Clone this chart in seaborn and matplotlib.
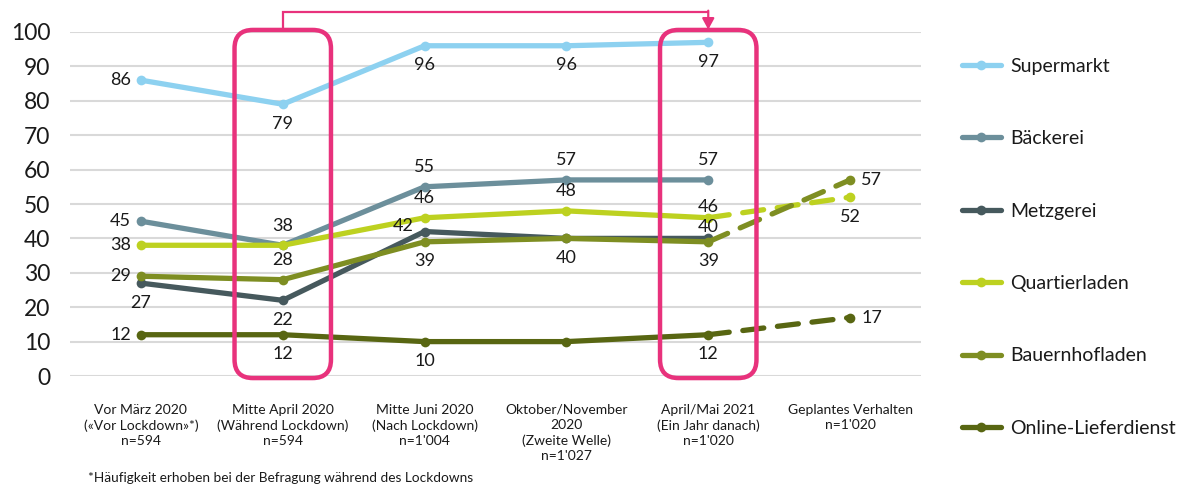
import numpy as np
import pandas as pd
import matplotlib
matplotlib.use("Agg")
import matplotlib.pyplot as plt
import seaborn as sns
from matplotlib.patches import FancyBboxPatch

# ---------------- data ----------------
categories = [
    "Vor März 2020\n(«Vor Lockdown»*)\nn=594",
    "Mitte April 2020\n(Während Lockdown)\nn=594",
    "Mitte Juni 2020\n(Nach Lockdown)\nn=1'004",
    "Oktober/November\n2020\n(Zweite Welle)\nn=1'027",
    "April/Mai 2021\n(Ein Jahr danach)\nn=1'020",
    "Geplantes Verhalten\nn=1'020",
]
series_names = ["Supermarkt", "Bäckerei", "Metzgerei", "Quartierladen",
                "Bauernhofladen", "Online-Lieferdienst"]
supermarkt = [86, 79, 96, 96, 97, None]
baeckerei = [45, 38, 55, 57, 57, None]
metzgerei = [27, 22, 42, 40, 40, None]
quartierladen = [38, 38, 46, 48, 46, 52]
bauernhofladen = [29, 28, 39, 40, 39, 57]
online = [12, 12, 10, 10, 12, 17]
values = [supermarkt, baeckerei, metzgerei, quartierladen, bauernhofladen, online]
colors = ["#8DD1F0", "#6C8F9B", "#46595D", "#BDD120", "#7E8E22", "#586612"]
highlight = [1, 4]
footnote = "*Häufigkeit erhoben bei der Befragung während des Lockdowns"

# label placement per series per point: (dx_pt, dy_pt, ha) or None
L = (-7, 0, "right")
B = (0, -14, "center")
A = (0, 14, "center")
Asm = (0, 8, "center")
R = (8, 0, "left")
label_pos = [
    [L, B, B, B, B, None],
    [L, A, A, A, A, None],
    [B, B, (-8, 4, "right"), None, Asm, None],
    [L, None, A, A, Asm, B],
    [L, A, B, B, B, R],
    [L, B, B, None, B, R],
]

pink = "#E8327C"

# ---------------- figure ----------------
sns.set_theme(style="white")
plt.rcParams["font.family"] = ["Lato", "DejaVu Sans"]

fig = plt.figure(figsize=(11.89, 4.86), dpi=100)
ax = fig.add_axes([70 / 1189, 1 - 376 / 486, 851 / 1189, 344 / 486])

x_idx = np.arange(len(categories))
rows = []
for name, vals in zip(series_names, values):
    for i, v in enumerate(vals[:5]):
        if v is not None:
            rows.append({"x": i, "y": v, "serie": name})
df_solid = pd.DataFrame(rows)
rows = []
for name, vals in zip(series_names, values):
    if vals[5] is not None:
        rows.append({"x": 4, "y": vals[4], "serie": name})
        rows.append({"x": 5, "y": vals[5], "serie": name})
df_dash = pd.DataFrame(rows)
pal = dict(zip(series_names, colors))

for yv in range(0, 101, 10):
    ax.axhline(yv, color="#D9D9D9", lw=1.5, zorder=0)

for name in series_names:
    sub = df_solid[df_solid.serie == name]
    sns.lineplot(data=sub, x="x", y="y", color=pal[name], lw=3.8, marker="o",
                 markersize=7, markeredgewidth=0, ax=ax, label=name, zorder=3)
    dsub = df_dash[df_dash.serie == name]
    if len(dsub):
        ax.plot(dsub.x, dsub.y, color=pal[name], lw=3.8, dashes=(4, 2.6),
                dash_capstyle="round", zorder=3)
        ax.plot(dsub.x.iloc[1:], dsub.y.iloc[1:], "o", color=pal[name], ms=7,
                mew=0, zorder=3)

# data labels
for name, vals, poss in zip(series_names, values, label_pos):
    for i, (v, p) in enumerate(zip(vals, poss)):
        if v is None or p is None:
            continue
        dx, dy, ha = p
        ax.annotate(str(v), (i, v), xytext=(dx, dy), textcoords="offset points",
                    ha=ha, va="center", fontsize=13, color="#1a1a1a", zorder=5)

ax.set_xlim(-0.5, 5.5)
ax.set_ylim(0, 100)
ax.set_yticks(range(0, 101, 10))
ax.set_xticks(x_idx)
ax.set_xticklabels(categories, fontsize=10, va="top")
for lab in ax.get_xticklabels():
    lab.set_linespacing(1.32)
    lab.set_color("#1a1a1a")
ax.tick_params(axis="x", length=0, pad=20)
ax.tick_params(axis="y", length=0, pad=14, labelsize=16.5)
for lab in ax.get_yticklabels():
    lab.set_color("#1a1a1a")
ax.set_xlabel("")
ax.set_ylabel("")
for s in ax.spines.values():
    s.set_visible(False)

# highlight boxes
aspect = (851 / 6) / (344 / 100)
for h in highlight:
    box = FancyBboxPatch((h - 0.34, -0.6), 0.68, 101.2,
                         boxstyle="round,pad=0,rounding_size=0.13",
                         mutation_aspect=aspect, fill=False, ec=pink, lw=3.2,
                         clip_on=False, zorder=6)
    ax.add_patch(box)

# arrow between boxes
ytop = 105.9
ax.plot([highlight[0], highlight[0], highlight[1]], [100.6, ytop, ytop],
        color=pink, lw=1.6, clip_on=False, zorder=6, solid_joinstyle="miter")
ax.annotate("", xy=(highlight[1], 100.7), xytext=(highlight[1], ytop + 0.3),
            arrowprops=dict(arrowstyle="-|>,head_width=0.3,head_length=0.55",
                            color=pink, lw=1.6, shrinkA=0, shrinkB=0),
            annotation_clip=False, zorder=6)

# legend
leg = ax.legend(loc="upper left", bbox_to_anchor=(954 / 1189, 1 - 50 / 486),
                bbox_transform=fig.transFigure, frameon=False, fontsize=14,
                handlelength=2.0, handletextpad=0.5, labelspacing=2.85,
                borderaxespad=0)
for t in leg.get_texts():
    t.set_color("#1a1a1a")

fig.text(88 / 1189, 1 - 478 / 486, footnote, fontsize=9.8, va="center",
         color="#1a1a1a")

fig.savefig("out.png", dpi=100)
